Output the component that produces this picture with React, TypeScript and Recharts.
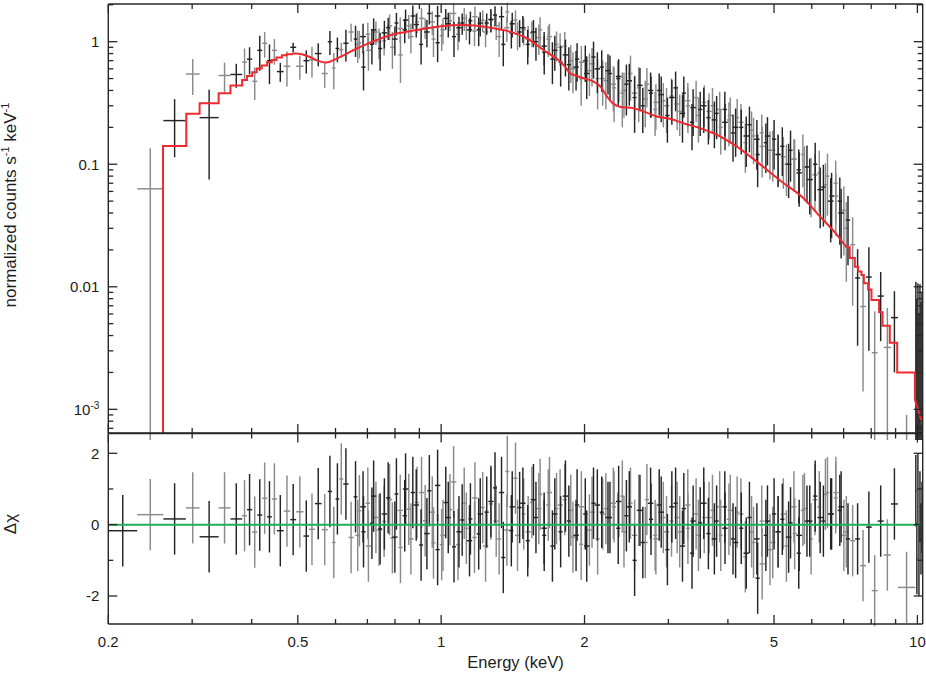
import React from 'react';
import { ComposedChart, Scatter, Line, XAxis, YAxis, ErrorBar } from 'recharts';

// ---------- data set A: energy bin edges (keV) ----------
const edgesLow = [0.200, 0.230, 0.261, 0.291, 0.311, 0.341, 0.361, 0.382, 0.391, 0.401, 0.411, 0.421, 0.431, 0.441, 0.452, 0.467, 0.482, 0.496, 0.514, 0.528, 0.543, 0.561, 0.578, 0.590, 0.600, 0.611, 0.623, 0.639];
const edgesDense = [0.655, 0.667, 0.680, 0.694, 0.709, 0.722, 0.737, 0.752, 0.766, 0.782,
  0.798, 0.813, 0.830, 0.847, 0.863, 0.881, 0.899, 0.916, 0.935, 0.954,
  0.973, 0.993, 1.012, 1.033, 1.054, 1.074, 1.096, 1.118, 1.141, 1.163,
  1.187, 1.211, 1.234, 1.259, 1.285, 1.310, 1.337, 1.364, 1.390, 1.418,
  1.447, 1.476, 1.505, 1.535, 1.566, 1.597, 1.630, 1.662, 1.695, 1.730,
  1.764, 1.800, 1.835, 1.873, 1.910, 1.949, 1.987, 2.028, 2.068, 2.110,
  2.152, 2.195, 2.240, 2.284, 2.331, 2.377, 2.425, 2.473, 2.523, 2.573,
  2.625, 2.677, 2.731, 2.786, 2.841, 2.899, 2.956, 3.016, 3.076, 3.138,
  3.200, 3.265, 3.330, 3.397, 3.464, 3.534, 3.604, 3.677, 3.750, 3.826,
  3.902, 3.981, 4.060, 4.142, 4.225, 4.310, 4.395, 4.484, 4.573, 4.666,
  4.758, 4.855, 4.951, 5.052, 5.152, 5.257, 5.361, 5.470, 5.578, 5.692,
  5.804, 5.923, 6.039, 6.163, 6.283, 6.413, 6.537, 6.673, 6.801, 6.943,
  7.075, 7.225];
const edgesHigh = [7.40, 7.58, 7.80, 8.02, 8.25, 8.50, 8.80, 9.10, 9.90, 9.95, 10.00, 10.05, 10.10, 10.15, 10.20, 10.25];

// ---------- data set A: normalized counts s^-1 keV^-1 ----------
const fluxLow = [0.0003, 0.063, 0.227, 0.545, 0.24, 0.53, 0.54, 0.68, 0.72, 0.475, 0.85, 0.97, 0.70, 0.85, 0.57, 0.63, 0.90, 0.63, 0.70, 0.71, 0.80, 0.55, 1.0, 0.61, 0.88, 0.86, 0.97, 1.2];
const fluxDense = [1.05, 0.98, 0.62, 1.15, 0.95, 1.2, 0.88, 1.02, 1.3, 0.9,
  1.42, 0.78, 1.25, 1.35, 1.62, 1.45, 0.95, 1.3, 1.7, 1.05,
  0.98, 1.12, 1.55, 1.48, 1.1, 1.15, 1.42, 1.35, 1.48, 1.22,
  1.25, 1.5, 1.42, 1.5, 1.65, 1.1, 0.95, 1.75, 1.18, 1.5,
  1.2, 1.25, 0.95, 1.18, 1.0, 1.25, 0.82, 1.05, 0.72, 0.95,
  0.68, 0.92, 0.65, 0.6, 0.72, 0.5, 0.7, 0.58, 0.75, 0.5,
  0.62, 0.48, 0.55, 0.42, 0.5, 0.38, 0.45, 0.55, 0.35, 0.42,
  0.3, 0.45, 0.38, 0.28, 0.4, 0.33, 0.25, 0.36, 0.42, 0.27,
  0.38, 0.3, 0.22, 0.35, 0.28, 0.32, 0.24, 0.3, 0.26, 0.2,
  0.28, 0.23, 0.18, 0.24, 0.2, 0.15, 0.21, 0.17, 0.12, 0.18,
  0.15, 0.13, 0.16, 0.12, 0.14, 0.1, 0.13, 0.11, 0.09, 0.12,
  0.095, 0.075, 0.1, 0.085, 0.065, 0.08, 0.055, 0.07, 0.05, 0.042,
  0.035];
const fluxHigh = [0.022, 0.0118, 0.0069, 0.012, 0.0029, 0.0084, 0.0032, 0.0056, 0.0002, 0.004, 0.002, 0.0035, 0.001, 0.003, 0.0015, 0.0025];

const errLow = [0.00025, 0.072, 0.113, 0.178, 0.165, 0.145, 0.12, 0.2, 0.18, 0.14, 0.27, 0.23, 0.25, 0.2, 0.1, 0.2, 0.08, 0.14, 0.15, 0.2, 0.17, 0.13, 0.22, 0.2, 0.2, 0.12, 0.28, 0.2];
const errDense = [0.3, 0.25, 0.22, 0.28, 0.3, 0.26, 0.3, 0.25, 0.27, 0.3,
  0.3, 0.32, 0.28, 0.3, 0.35, 0.28, 0.3, 0.25, 0.32, 0.3,
  0.3, 0.28, 0.3, 0.26, 0.35, 0.3, 0.28, 0.32, 0.28, 0.3,
  0.33, 0.3, 0.28, 0.3, 0.3, 0.35, 0.32, 0.33, 0.3, 0.3,
  0.3, 0.32, 0.3, 0.28, 0.3, 0.33, 0.28, 0.3, 0.27, 0.26,
  0.25, 0.28, 0.25, 0.22, 0.25, 0.2, 0.23, 0.22, 0.25, 0.22,
  0.23, 0.2, 0.22, 0.2, 0.2, 0.18, 0.2, 0.22, 0.17, 0.2,
  0.12, 0.16, 0.14, 0.11, 0.15, 0.13, 0.1, 0.14, 0.15, 0.1,
  0.14, 0.12, 0.09, 0.13, 0.11, 0.12, 0.095, 0.12, 0.1, 0.08,
  0.11, 0.09, 0.075, 0.1, 0.08, 0.065, 0.085, 0.07, 0.055, 0.075,
  0.065, 0.055, 0.07, 0.052, 0.06, 0.045, 0.058, 0.05, 0.042, 0.055,
  0.047, 0.038, 0.05, 0.044, 0.034, 0.042, 0.03, 0.037, 0.028, 0.024,
  0.02];
const errHigh = [0.015, 0.0085, 0.0055, 0.009, 0.0034, 0.0048, 0.0035, 0.0036, 0.0007, 0.007, 0.006, 0.0072, 0.005, 0.0075, 0.006, 0.0065];

// ---------- data set A: residuals (delta chi) ----------
const residLow = [-0.17, 0.28, 0.16, 0.47, -0.34, 0.47, 0.16, 0.25, 0.42, -0.21, 0.27, 0.74, 0.22, 0.72, -0.17, 0.38, 0.14, 0.36, -0.32, -0.13, 0.59, -0.14, 0.93, -0.5, 0.72, 1.28, 1.14, -0.36];
const residDense = [0.78, 0.39, -0.2, 0.6, 0.04, 0.2, -0.12, 0.09, 0.75, -0.37,
  0.86, -0.64, 0.25, 0.43, 0.9, 0.62, -0.57, 0.11, 0.95, -0.51,
  -0.7, -0.56, 0.62, 0.42, -0.62, -0.56, 0.13, -0.1, 0.16, -0.36,
  -0.26, 0.48, 0.35, 0.58, 1.03, -0.4, -0.92, 1.49, -0.17, 1.3,
  0.48, 0.3, -0.45, 0.62, 0.2, 0.85, -0.3, 0.55, -0.6, 0.45,
  -0.2, 0.7, 0.1, -0.35, 0.55, -0.55, 0.3, -0.15, 0.6, -0.4,
  0.35, 0.45, 0.2, 0.5, -0.1, 0.8, 0.25, 0.6, -1.0, 0.4,
  -0.5, 0.7, 0.15, -0.3, 0.55, 0.2, -0.7, 0.1, 0.6, -0.2,
  0.45, -0.1, -0.8, 0.3, 0.05, 0.2, -0.25, 0.4, 0.1, -0.3,
  0.5, 0.15, -0.4, 0.35, -0.1, -0.9, 0.2, -0.5, -1.5, 0.1,
  -0.3, -0.7, 0.3, -0.2, 0.15, -0.6, 0.05, -0.25, -0.8, 0.4,
  0.1, -0.4, 0.8, 0.5, 0.1, 0.9, 0.3, 0.75, 0.4, -0.3,
  -0.4];
const residHigh = [-0.45, -0.4, -1.15, -0.07, -1.85, 0.1, -0.85, 0.58, -1.76, 0.95, -0.95, 1.0, -1.0, 0.5, -0.4, 0.2];

// ---------- data set B (second, overlapping spectrum) ----------
const edgesB = [0.660, 0.676, 0.695, 0.712, 0.731, 0.750, 0.770, 0.789, 0.810, 0.831,
  0.853, 0.875, 0.898, 0.921, 0.946, 0.970, 0.996, 1.022, 1.048, 1.076,
  1.104, 1.132, 1.162, 1.193, 1.223, 1.256, 1.288, 1.322, 1.356, 1.392,
  1.428, 1.465, 1.504, 1.542, 1.583, 1.624, 1.667, 1.710, 1.755, 1.800,
  1.848, 1.895, 1.945, 1.995, 2.048, 2.100, 2.156, 2.211, 2.270, 2.328,
  2.390, 2.451, 2.516, 2.581, 2.649, 2.717, 2.789, 2.860, 2.936, 3.011,
  3.091, 3.170, 3.254, 3.337, 3.426, 3.513, 3.607, 3.698, 3.797, 3.893,
  3.997, 4.098, 4.208, 4.314, 4.430, 4.541, 4.663, 4.780, 4.908, 5.031,
  5.166, 5.295, 5.437, 5.572, 5.722, 5.863, 6.021, 6.168, 6.335, 6.488,
  6.664, 6.823, 7.010, 7.175];
const fluxB = [0.95, 1.1, 0.85, 1.25, 1.0, 1.18, 1.35, 1.05, 1.28, 1.5,
  1.1, 1.38, 1.55, 1.2, 1.45, 1.62, 1.25, 1.4, 1.7, 1.3,
  1.55, 1.25, 1.6, 1.42, 1.2, 1.52, 1.35, 1.6, 1.3, 1.4,
  1.15, 1.3, 1.05, 1.2, 1.08, 0.92, 1.1, 0.85, 0.9, 0.78,
  0.7, 0.62, 0.68, 0.55, 0.66, 0.6, 0.5, 0.58, 0.45, 0.52,
  0.4, 0.48, 0.38, 0.44, 0.34, 0.4, 0.32, 0.37, 0.3, 0.35,
  0.31, 0.26, 0.33, 0.29, 0.25, 0.3, 0.27, 0.23, 0.28, 0.22,
  0.25, 0.2, 0.22, 0.17, 0.19, 0.16, 0.14, 0.17, 0.13, 0.12,
  0.115, 0.1, 0.11, 0.085, 0.095, 0.075, 0.082, 0.062, 0.068, 0.05,
  0.055, 0.04, 0.03];
const errB = [0.28, 0.3, 0.27, 0.3, 0.28, 0.3, 0.32, 0.28, 0.3, 0.33,
  0.3, 0.3, 0.33, 0.3, 0.32, 0.34, 0.3, 0.32, 0.35, 0.3,
  0.33, 0.3, 0.34, 0.32, 0.3, 0.33, 0.32, 0.34, 0.3, 0.32,
  0.3, 0.32, 0.3, 0.3, 0.3, 0.28, 0.3, 0.27, 0.27, 0.26,
  0.24, 0.22, 0.24, 0.21, 0.23, 0.22, 0.2, 0.21, 0.18, 0.2,
  0.16, 0.18, 0.15, 0.17, 0.14, 0.16, 0.13, 0.15, 0.12, 0.14,
  0.12, 0.11, 0.13, 0.12, 0.1, 0.12, 0.11, 0.095, 0.11, 0.09,
  0.1, 0.085, 0.09, 0.075, 0.08, 0.07, 0.062, 0.072, 0.058, 0.055,
  0.052, 0.047, 0.05, 0.04, 0.045, 0.036, 0.04, 0.032, 0.034, 0.027,
  0.029, 0.023, 0.019];
const residB = [-0.3, 0.5, -0.6, 0.8, -0.15, 0.3, 0.7, -0.35, 0.4, 1.0,
  -0.4, 0.55, 0.9, -0.25, 0.35, 1.1, -0.3, 0.2, 1.2, -0.2,
  0.6, -0.45, 0.75, 0.3, -0.6, 0.65, 0.1, 0.9, -0.15, 0.5,
  -0.3, 0.6, -0.2, 0.7, 0.45, -0.1, 0.9, 0.3, 0.55, 0.8,
  0.4, -0.3, 0.5, -0.6, 0.35, 0.55, 0.3, 0.2, 0.6, 0.65,
  -0.2, 0.5, -0.3, 0.4, -0.5, 0.6, -0.4, 0.35, -0.2, 0.5,
  0.2, -0.6, 0.55, 0.1, -0.3, 0.6, 0.2, -0.4, 0.5, -0.1,
  0.4, -0.5, 0.3, -0.8, -0.2, -0.4, -1.1, 0.1, -0.5, -0.2,
  0.3, -0.35, 0.5, -0.3, 0.45, 0.1, 0.7, 0.2, 0.85, 0.3,
  0.9, 0.5, -0.2];

const RESID_ERR = 1;

// ---------- model (red) ----------
const modelStepLowE = [0.2, 0.2606, 0.2916, 0.311, 0.341, 0.361, 0.382, 0.391, 0.401, 0.410, 0.420, 0.431, 0.441, 0.451, 0.463, 0.474, 0.486];
const modelStepLowF = [0.0001, 0.141, 0.258, 0.315, 0.38, 0.438, 0.487, 0.526, 0.563, 0.603, 0.638, 0.68, 0.71, 0.742, 0.774, 0.79, 0.80];
const modelSmoothE = [0.486, 0.496, 0.51, 0.53, 0.55, 0.574, 0.60, 0.634, 0.665, 0.698, 0.74, 0.781, 0.83, 0.889, 0.95, 1.011, 1.06, 1.112, 1.15, 1.2, 1.27, 1.351, 1.43, 1.513, 1.575, 1.639, 1.70, 1.762, 1.82, 1.865, 1.93, 1.989, 2.09, 2.16, 2.23, 2.30, 2.37, 2.53, 2.66, 2.836, 3.024, 3.225, 3.497, 3.73, 4.17, 4.60, 5.14, 5.76, 6.24, 6.77, 7.10];
const modelSmoothF = [0.80, 0.80, 0.79, 0.75, 0.70, 0.675, 0.72, 0.80, 0.88, 0.957, 1.05, 1.13, 1.19, 1.245, 1.30, 1.34, 1.36, 1.37, 1.36, 1.34, 1.30, 1.245, 1.17, 1.066, 0.96, 0.856, 0.78, 0.71, 0.625, 0.553, 0.525, 0.503, 0.472, 0.43, 0.356, 0.311, 0.295, 0.287, 0.27, 0.245, 0.235, 0.216, 0.197, 0.179, 0.14, 0.105, 0.074, 0.053, 0.0375, 0.0267, 0.021];
const modelStepHighE = [7.10, 7.21, 7.39, 7.51, 7.63, 7.72, 7.88, 8.01, 8.31, 8.45, 8.75, 9.07, 9.88];
const modelStepHighF = [0.021, 0.0172, 0.0146, 0.0133, 0.0125, 0.0107, 0.0095, 0.0078, 0.0062, 0.0048, 0.0035, 0.002, 0.0012];
const modelTailE = [9.88, 10.26];
const modelTailF = [0.0012, 0.00075];

// ---------- axes ----------
const xMajorTicks = [0.2, 0.5, 1, 2, 5, 10];
const xMajorLabels = ['0.2', '0.5', '1', '2', '5', '10'];
const xMinorTicks = [0.3, 0.4, 0.6, 0.7, 0.8, 0.9, 3, 4, 6, 7, 8, 9];
const yMajorTicks = [0.001, 0.01, 0.1, 1];
const yMajorLabels = ['10^-3', '0.01', '0.1', '1'];
const yMinorTicks = [0.0007, 0.0008, 0.0009, 0.002, 0.003, 0.004, 0.005, 0.006, 0.007, 0.008, 0.009, 0.02, 0.03, 0.04, 0.05, 0.06, 0.07, 0.08, 0.09, 0.2, 0.3, 0.4, 0.5, 0.6, 0.7, 0.8, 0.9, 2];
const rMajorTicks = [-2, 0, 2];
const rMajorLabels = ['-2', '0', '2'];
const rMinorTicks = [-1, 1];

const X_DOMAIN: [number, number] = [0.2, 10.26];
const Y_DOMAIN: [number, number] = [0.000641, 2.03];
const R_DOMAIN: [number, number] = [-2.785, 2.555];

const FONT = "'Liberation Sans', Arial, Helvetica, sans-serif";
const INK = '#1c1c1c';
const FRAME = '#262626';
const BLACK = '#242424';
const GRAY = '#8a8a8a';
const RED = '#ee2a30';
const GREEN = '#1faf5c';

// ---------- build rows ----------
type Row = { x: number; y: number; ex: number[]; ey: number[] | number };

const buildRows = (edges: number[], ys: number[], errs: number[] | null): Row[] =>
  ys.map((v, i) => {
    const lo = edges[i];
    const hi = edges[i + 1];
    const c = Math.sqrt(lo * hi);
    const ey = errs ? [Math.min(errs[i], v * 0.9999), errs[i]] : RESID_ERR;
    return { x: c, y: v, ex: [c - lo, hi - c], ey };
  });

const edgesA = [...edgesLow, ...edgesDense, ...edgesHigh];
const fluxA = [...fluxLow, ...fluxDense, ...fluxHigh];
const errA = [...errLow, ...errDense, ...errHigh];
const residA = [...residLow, ...residDense, ...residHigh];

const specA = buildRows(edgesA, fluxA, errA);
const specB = buildRows(edgesB, fluxB, errB);
const resA = buildRows(edgesA, residA, null);
const resB = buildRows(edgesB, residB, null);

// bins near 10 keV form one solid dark block in the reference
const isBlock = (r: Row) => r.x > 9.9;
const even = (r: Row[]) => r.filter((row, i) => i % 2 === 0 || isBlock(row));
const odd = (r: Row[]) => r.filter((row, i) => i % 2 === 1 && !isBlock(row));
const specBlack = [...even(specA), ...odd(specB)];
const specGray = [...odd(specA), ...even(specB)];
const residBlack = [...even(resA), ...odd(resB)];
const residGray = [...odd(resA), ...even(resB)];

const toPts = (xs: number[], ys: number[]) => xs.map((x, i) => ({ x, y: ys[i] }));
const modelLow = toPts(modelStepLowE, modelStepLowF);
const modelSmooth = toPts(modelSmoothE, modelSmoothF);
const modelHigh = toPts(modelStepHighE, modelStepHighF);
const modelTail = toPts(modelTailE, modelTailF);
const zeroLine = toPts(X_DOMAIN, [0, 0]);

const near = (a: number, b: number) => Math.abs(a - b) <= 1e-9 * Math.abs(a) + 1e-12;
const idxOf = (arr: number[], v: number) => arr.findIndex((a) => near(a, v));

const renderLabel = (s: string) => {
  if (s.includes('^')) {
    const [base, exp] = s.split('^');
    return (
      <>
        <tspan>{base}</tspan>
        <tspan dy={-6} fontSize={10}>{exp}</tspan>
      </>
    );
  }
  return s;
};

const makeXTick = (side: 'top' | 'bottom', labels: boolean) => (props: any) => {
  const { x, y, payload } = props;
  const k = idxOf(xMajorTicks, payload.value);
  const len = k >= 0 ? 9 : 5;
  const dir = side === 'bottom' ? -1 : 1;
  return (
    <g>
      <line x1={x} y1={y} x2={x} y2={y + dir * len} stroke={FRAME} strokeWidth={1.3} />
      {labels && k >= 0 ? (
        <text x={x} y={y + 23} textAnchor="middle" fontFamily={FONT} fontSize={15} fill={INK}>
          {xMajorLabels[k]}
        </text>
      ) : null}
    </g>
  );
};

const makeYTick = (side: 'left' | 'right', majors: number[], majorLabels: string[] | null) => (props: any) => {
  const { x, y, payload } = props;
  const k = idxOf(majors, payload.value);
  const len = k >= 0 ? 9 : 5;
  const dir = side === 'left' ? 1 : -1;
  return (
    <g>
      <line x1={x} y1={y} x2={x + dir * len} y2={y} stroke={FRAME} strokeWidth={1.3} />
      {majorLabels && k >= 0 ? (
        <text x={x - 9} y={y + 5.5} textAnchor="end" fontFamily={FONT} fontSize={15} fill={INK}>
          {renderLabel(majorLabels[k])}
        </text>
      ) : null}
    </g>
  );
};

const emptyShape = () => <g />;
const axisLineStyle = { stroke: FRAME, strokeWidth: 1.4 };
const xTicksAll = [...xMajorTicks, ...xMinorTicks].sort((a, b) => a - b);
const yTicksAll = [...yMajorTicks, ...yMinorTicks].sort((a, b) => a - b);
const rTicksAll = [...rMajorTicks, ...rMinorTicks].sort((a, b) => a - b);

const errStroke = (c: string) => ({ stroke: c, strokeWidth: 1.45 });

const ErrScatter = (rows: Row[], color: string) => (
  <Scatter xAxisId="b" yAxisId="l" data={rows} shape={emptyShape} isAnimationActive={false}>
    <ErrorBar dataKey="ex" direction="x" width={0} {...errStroke(color)} isAnimationActive={false} />
    <ErrorBar dataKey="ey" direction="y" width={0} {...errStroke(color)} isAnimationActive={false} />
  </Scatter>
);

export default function App() {
  return (
    <div style={{ position: 'absolute', left: 0, top: 0, width: 926, height: 673, background: '#fff' }}>
      <div style={{ position: 'absolute', left: 0, top: 0 }}>
        <ComposedChart width={926} height={440} margin={{ top: 3, right: 2.3, bottom: 6, left: 8.3 }}>
          <XAxis xAxisId="b" type="number" dataKey="x" scale="log" domain={X_DOMAIN} allowDataOverflow
            ticks={xTicksAll} interval={0} tickSize={0} tickMargin={0} height={1}
            axisLine={axisLineStyle} tickLine={false} tick={makeXTick('bottom', false)} />
          <XAxis xAxisId="t" orientation="top" type="number" dataKey="x" scale="log" domain={X_DOMAIN} allowDataOverflow
            ticks={xTicksAll} interval={0} tickSize={0} tickMargin={0} height={1}
            axisLine={axisLineStyle} tickLine={false} tick={makeXTick('top', false)} />
          <YAxis yAxisId="l" type="number" dataKey="y" scale="log" domain={Y_DOMAIN} allowDataOverflow
            ticks={yTicksAll} interval={0} tickSize={0} tickMargin={0} width={100}
            axisLine={axisLineStyle} tickLine={false} tick={makeYTick('left', yMajorTicks, yMajorLabels)}
            label={{
              content: () => (
                <text transform="translate(16, 205) rotate(-90)" textAnchor="middle" fontFamily={FONT} fontSize={17} fill={INK}>
                  <tspan>normalized counts s</tspan>
                  <tspan dy={-7} fontSize={11}>-1</tspan>
                  <tspan dy={7}> keV</tspan>
                  <tspan dy={-7} fontSize={11}>-1</tspan>
                </text>
              ),
            }} />
          <YAxis yAxisId="r" orientation="right" type="number" dataKey="y" scale="log" domain={Y_DOMAIN} allowDataOverflow
            ticks={yTicksAll} interval={0} tickSize={0} tickMargin={0} width={1}
            axisLine={axisLineStyle} tickLine={false} tick={makeYTick('right', yMajorTicks, null)} />
          {ErrScatter(specGray, GRAY)}
          {ErrScatter(specBlack, BLACK)}
          <Line xAxisId="b" yAxisId="l" data={modelLow} dataKey="y" type="stepAfter" stroke={RED} strokeWidth={2} dot={false} activeDot={false} isAnimationActive={false} />
          <Line xAxisId="b" yAxisId="l" data={modelSmooth} dataKey="y" type="monotone" stroke={RED} strokeWidth={2} dot={false} activeDot={false} isAnimationActive={false} />
          <Line xAxisId="b" yAxisId="l" data={modelHigh} dataKey="y" type="stepAfter" stroke={RED} strokeWidth={2} dot={false} activeDot={false} isAnimationActive={false} />
          <Line xAxisId="b" yAxisId="l" data={modelTail} dataKey="y" type="linear" stroke={RED} strokeWidth={2} dot={false} activeDot={false} isAnimationActive={false} />
        </ComposedChart>
      </div>
      <div style={{ position: 'absolute', left: 0, top: 432 }}>
        <ComposedChart width={926} height={241} margin={{ top: 0.5, right: 2.3, bottom: 1, left: 8.3 }}>
          <XAxis xAxisId="b" type="number" dataKey="x" scale="log" domain={X_DOMAIN} allowDataOverflow
            ticks={xTicksAll} interval={0} tickSize={0} tickMargin={0} height={48}
            axisLine={axisLineStyle} tickLine={false} tick={makeXTick('bottom', true)}
            label={{
              content: () => (
                <text x={515.5} y={236} textAnchor="middle" fontFamily={FONT} fontSize={16.5} fill={INK}>Energy (keV)</text>
              ),
            }} />
          <XAxis xAxisId="t" orientation="top" type="number" dataKey="x" scale="log" domain={X_DOMAIN} allowDataOverflow
            ticks={xTicksAll} interval={0} tickSize={0} tickMargin={0} height={1}
            axisLine={axisLineStyle} tickLine={false} tick={makeXTick('top', false)} />
          <YAxis yAxisId="l" type="number" dataKey="y" domain={R_DOMAIN} allowDataOverflow
            ticks={rTicksAll} interval={0} tickSize={0} tickMargin={0} width={100}
            axisLine={axisLineStyle} tickLine={false} tick={makeYTick('left', rMajorTicks, rMajorLabels)}
            label={{
              content: () => (
                <text transform="translate(16, 92) rotate(-90)" textAnchor="middle" fontFamily={FONT} fontSize={17} fill={INK}>Δχ</text>
              ),
            }} />
          <YAxis yAxisId="r" orientation="right" type="number" dataKey="y" domain={R_DOMAIN} allowDataOverflow
            ticks={rTicksAll} interval={0} tickSize={0} tickMargin={0} width={1}
            axisLine={axisLineStyle} tickLine={false} tick={makeYTick('right', rMajorTicks, null)} />
          {ErrScatter(residGray, GRAY)}
          {ErrScatter(residBlack, BLACK)}
          <Line xAxisId="b" yAxisId="l" data={zeroLine} dataKey="y" type="linear" stroke={GREEN} strokeWidth={2} dot={false} activeDot={false} isAnimationActive={false} />
        </ComposedChart>
      </div>
    </div>
  );
}
